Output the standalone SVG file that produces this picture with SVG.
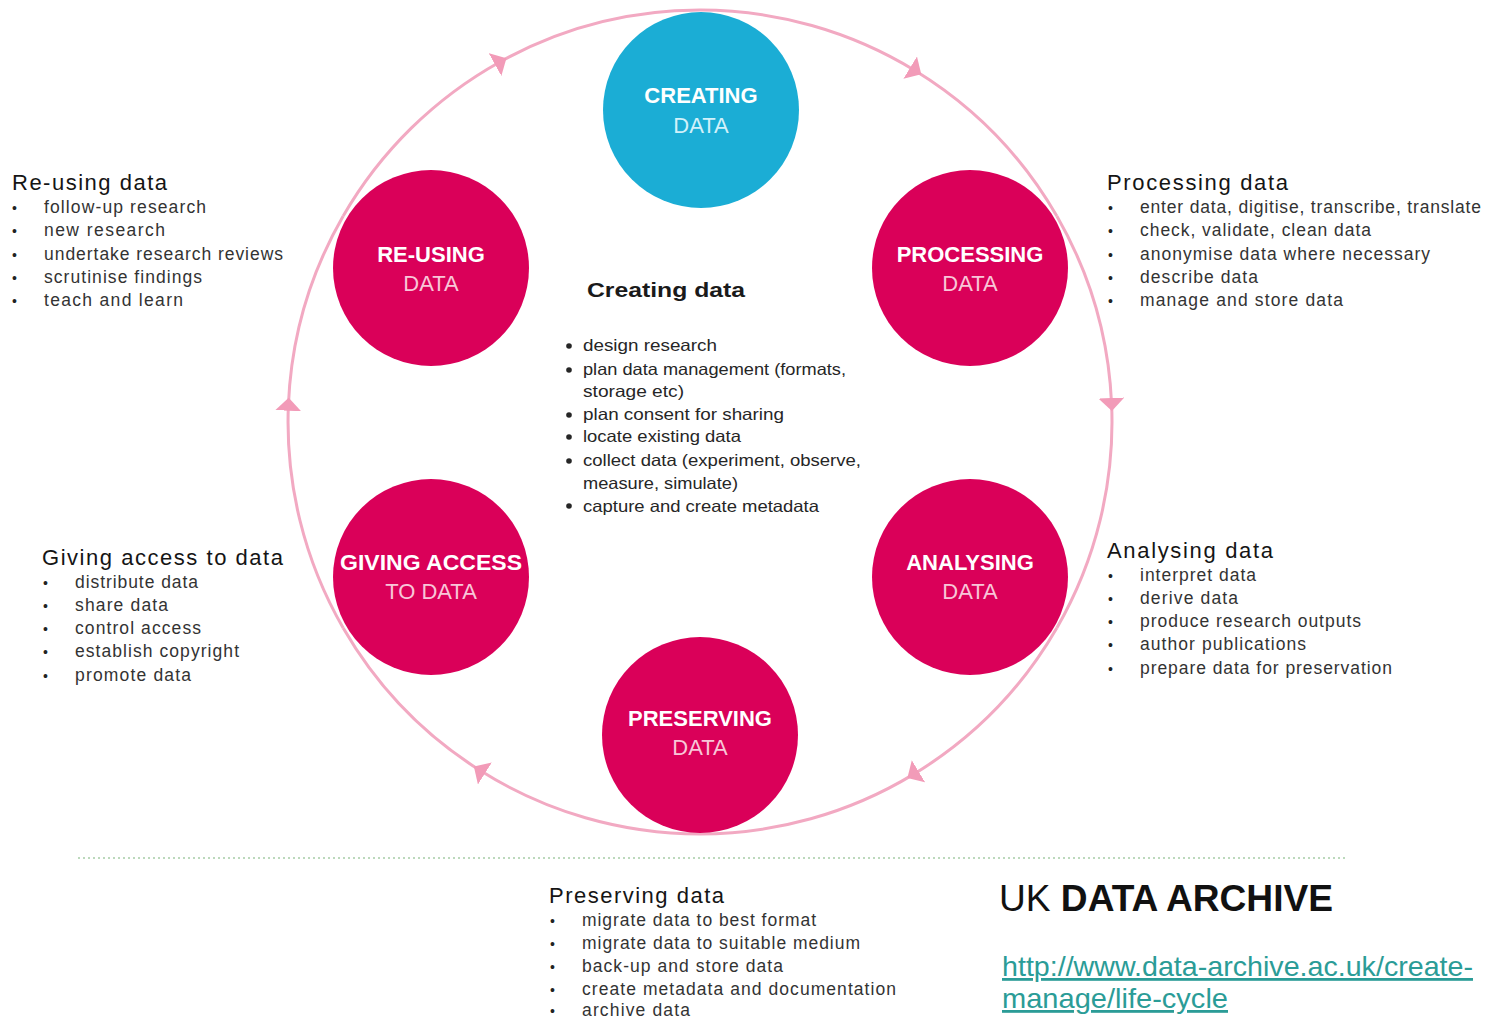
<svg xmlns="http://www.w3.org/2000/svg" width="1496" height="1021" viewBox="0 0 1496 1021">
<defs>
<style>
.ring{fill:none;stroke:#f2a9c2;stroke-width:3;marker-mid:url(#arr)}
.mag{fill:#da0059}
.blue{fill:#1badd5}
.nt1{font-family:"Liberation Sans",Arial,sans-serif;font-weight:bold;font-size:22px;fill:#ffffff;text-anchor:middle}
.nt2{font-family:"Liberation Sans",Arial,sans-serif;font-size:22px;fill:#f8c6d8;text-anchor:middle}
.nt2b{font-family:"Liberation Sans",Arial,sans-serif;font-size:22px;fill:#d2f1fa;text-anchor:middle}
.hd{font-family:"Liberation Sans",Arial,sans-serif;font-size:22px;fill:#151515}
.it{font-family:"Liberation Sans",Arial,sans-serif;font-size:17.5px;fill:#333333}
.bl{font-family:"Liberation Sans",Arial,sans-serif;font-size:14px;fill:#222222}
.ch{font-family:"Liberation Sans",Arial,sans-serif;font-size:21px;font-weight:bold;fill:#1a1a1a}
.ci{font-family:"Liberation Sans",Arial,sans-serif;font-size:16.5px;fill:#262626}
.cb{fill:#262626}
.url{font-family:"Liberation Sans",Arial,sans-serif;font-size:28px;fill:#2b9c97;text-decoration:underline}
</style>
<marker id="arr" markerUnits="userSpaceOnUse" markerWidth="13" markerHeight="26" viewBox="0 0 13 26" refX="6" refY="13" orient="auto">
<path d="M0,0 L13,13 L0,26 Z" fill="#f29bb8"/>
</marker>
</defs>
<rect width="1496" height="1021" fill="#ffffff"/>

<g id="connectors">
<path class="ring" d="M343.19,216 A412,412 0 0 1 500.3,61.7 A412,412 0 0 1 700,10"/>
<path class="ring" d="M700,10 A412,412 0 0 1 915.3,70.7 A412,412 0 0 1 1056.81,216"/>
<path class="ring" d="M1056.81,216 A412,412 0 0 1 1111.6,404 A412,412 0 0 1 1056.81,628"/>
<path class="ring" d="M1056.81,628 A412,412 0 0 1 913.4,774.4 A412,412 0 0 1 700,834"/>
<path class="ring" d="M700,834 A412,412 0 0 1 479.8,770.3 A412,412 0 0 1 343.19,628"/>
<path class="ring" d="M343.19,628 A412,412 0 0 1 288.4,404.7 A412,412 0 0 1 343.19,216"/>
</g>

<g id="node-creating">
<circle class="blue" cx="701" cy="110" r="98"/>
<text class="nt1" x="701" y="103">CREATING</text>
<text class="nt2b" x="701" y="133">DATA</text>
</g>
<g id="node-processing">
<circle class="mag" cx="970" cy="268" r="98"/>
<text class="nt1" x="970" y="262">PROCESSING</text>
<text class="nt2" x="970" y="291">DATA</text>
</g>
<g id="node-analysing">
<circle class="mag" cx="970" cy="577" r="98"/>
<text class="nt1" x="970" y="570">ANALYSING</text>
<text class="nt2" x="970" y="599">DATA</text>
</g>
<g id="node-preserving">
<circle class="mag" cx="700" cy="735" r="98"/>
<text class="nt1" x="700" y="726">PRESERVING</text>
<text class="nt2" x="700" y="755">DATA</text>
</g>
<g id="node-giving-access">
<circle class="mag" cx="431" cy="577" r="98"/>
<text class="nt1" x="431" y="570" textLength="182" lengthAdjust="spacingAndGlyphs">GIVING ACCESS</text>
<text class="nt2" x="431" y="599">TO DATA</text>
</g>
<g id="node-reusing">
<circle class="mag" cx="431" cy="268" r="98"/>
<text class="nt1" x="431" y="262">RE-USING</text>
<text class="nt2" x="431" y="291">DATA</text>
</g>

<g id="text-creating">
<text class="ch" x="587" y="297" textLength="158" lengthAdjust="spacingAndGlyphs">Creating data</text>
<g class="cb">
<circle cx="569" cy="346" r="2.8"/>
<circle cx="569" cy="370" r="2.8"/>
<circle cx="569" cy="415" r="2.8"/>
<circle cx="569" cy="437" r="2.8"/>
<circle cx="569" cy="461" r="2.8"/>
<circle cx="569" cy="506" r="2.8"/>
</g>
<text class="ci" x="583" y="351" textLength="134" lengthAdjust="spacingAndGlyphs">design research</text>
<text class="ci" x="583" y="375" textLength="263" lengthAdjust="spacingAndGlyphs">plan data management (formats,</text>
<text class="ci" x="583" y="397" textLength="101" lengthAdjust="spacingAndGlyphs">storage etc)</text>
<text class="ci" x="583" y="420" textLength="201" lengthAdjust="spacingAndGlyphs">plan consent for sharing</text>
<text class="ci" x="583" y="442" textLength="158" lengthAdjust="spacingAndGlyphs">locate existing data</text>
<text class="ci" x="583" y="466" textLength="278" lengthAdjust="spacingAndGlyphs">collect data (experiment, observe,</text>
<text class="ci" x="583" y="489" textLength="155" lengthAdjust="spacingAndGlyphs">measure, simulate)</text>
<text class="ci" x="583" y="512" textLength="236" lengthAdjust="spacingAndGlyphs">capture and create metadata</text>
</g>

<g id="text-reusing">
<text class="hd" x="12" y="190" textLength="155" lengthAdjust="spacing">Re-using data</text>
<text class="bl" x="12" y="213">•</text>
<text class="bl" x="12" y="236">•</text>
<text class="bl" x="12" y="260">•</text>
<text class="bl" x="12" y="283">•</text>
<text class="bl" x="12" y="306">•</text>
<text class="it" x="44" y="213" textLength="162" lengthAdjust="spacing">follow-up research</text>
<text class="it" x="44" y="236" textLength="121" lengthAdjust="spacing">new research</text>
<text class="it" x="44" y="260" textLength="239" lengthAdjust="spacing">undertake research reviews</text>
<text class="it" x="44" y="283" textLength="158" lengthAdjust="spacing">scrutinise findings</text>
<text class="it" x="44" y="306" textLength="139" lengthAdjust="spacing">teach and learn</text>
</g>

<g id="text-processing">
<text class="hd" x="1107" y="190" textLength="181" lengthAdjust="spacing">Processing data</text>
<text class="bl" x="1108" y="213">•</text>
<text class="bl" x="1108" y="236">•</text>
<text class="bl" x="1108" y="260">•</text>
<text class="bl" x="1108" y="283">•</text>
<text class="bl" x="1108" y="306">•</text>
<text class="it" x="1140" y="213" textLength="341" lengthAdjust="spacing">enter data, digitise, transcribe, translate</text>
<text class="it" x="1140" y="236" textLength="231" lengthAdjust="spacing">check, validate, clean data</text>
<text class="it" x="1140" y="260" textLength="290" lengthAdjust="spacing">anonymise data where necessary</text>
<text class="it" x="1140" y="283" textLength="118" lengthAdjust="spacing">describe data</text>
<text class="it" x="1140" y="306" textLength="203" lengthAdjust="spacing">manage and store data</text>
</g>

<g id="text-giving-access">
<text class="hd" x="42" y="565" textLength="241" lengthAdjust="spacing">Giving access to data</text>
<text class="bl" x="43" y="588">•</text>
<text class="bl" x="43" y="611">•</text>
<text class="bl" x="43" y="634">•</text>
<text class="bl" x="43" y="657">•</text>
<text class="bl" x="43" y="681">•</text>
<text class="it" x="75" y="588" textLength="123" lengthAdjust="spacing">distribute data</text>
<text class="it" x="75" y="611" textLength="93" lengthAdjust="spacing">share data</text>
<text class="it" x="75" y="634" textLength="126" lengthAdjust="spacing">control access</text>
<text class="it" x="75" y="657" textLength="164" lengthAdjust="spacing">establish copyright</text>
<text class="it" x="75" y="681" textLength="116" lengthAdjust="spacing">promote data</text>
</g>

<g id="text-analysing">
<text class="hd" x="1107" y="558" textLength="166" lengthAdjust="spacing">Analysing data</text>
<text class="bl" x="1108" y="581">•</text>
<text class="bl" x="1108" y="604">•</text>
<text class="bl" x="1108" y="627">•</text>
<text class="bl" x="1108" y="650">•</text>
<text class="bl" x="1108" y="674">•</text>
<text class="it" x="1140" y="581" textLength="116" lengthAdjust="spacing">interpret data</text>
<text class="it" x="1140" y="604" textLength="98" lengthAdjust="spacing">derive data</text>
<text class="it" x="1140" y="627" textLength="221" lengthAdjust="spacing">produce research outputs</text>
<text class="it" x="1140" y="650" textLength="166" lengthAdjust="spacing">author publications</text>
<text class="it" x="1140" y="674" textLength="252" lengthAdjust="spacing">prepare data for preservation</text>
</g>

<g id="text-preserving">
<text class="hd" x="549" y="903" textLength="175" lengthAdjust="spacing">Preserving data</text>
<text class="bl" x="550" y="926">•</text>
<text class="bl" x="550" y="949">•</text>
<text class="bl" x="550" y="972">•</text>
<text class="bl" x="550" y="995">•</text>
<text class="bl" x="550" y="1016">•</text>
<text class="it" x="582" y="926" textLength="234" lengthAdjust="spacing">migrate data to best format</text>
<text class="it" x="582" y="949" textLength="278" lengthAdjust="spacing">migrate data to suitable medium</text>
<text class="it" x="582" y="972" textLength="201" lengthAdjust="spacing">back-up and store data</text>
<text class="it" x="582" y="995" textLength="314" lengthAdjust="spacing">create metadata and documentation</text>
<text class="it" x="582" y="1016" textLength="108" lengthAdjust="spacing">archive data</text>
</g>

<line x1="78" y1="858" x2="1345" y2="858" stroke="#bcd9bc" stroke-width="2" stroke-dasharray="2,3"/>

<g id="logo">
<text x="999" y="911" font-family="Liberation Sans,Arial,sans-serif" font-size="36" fill="#111111" textLength="334" lengthAdjust="spacingAndGlyphs">UK <tspan font-weight="bold">DATA ARCHIVE</tspan></text>
<text class="url" x="1002" y="976" textLength="471" lengthAdjust="spacingAndGlyphs">http://www.data-archive.ac.uk/create-</text>
<text class="url" x="1002" y="1008" textLength="226" lengthAdjust="spacingAndGlyphs">manage/life-cycle</text>
</g>
</svg>
